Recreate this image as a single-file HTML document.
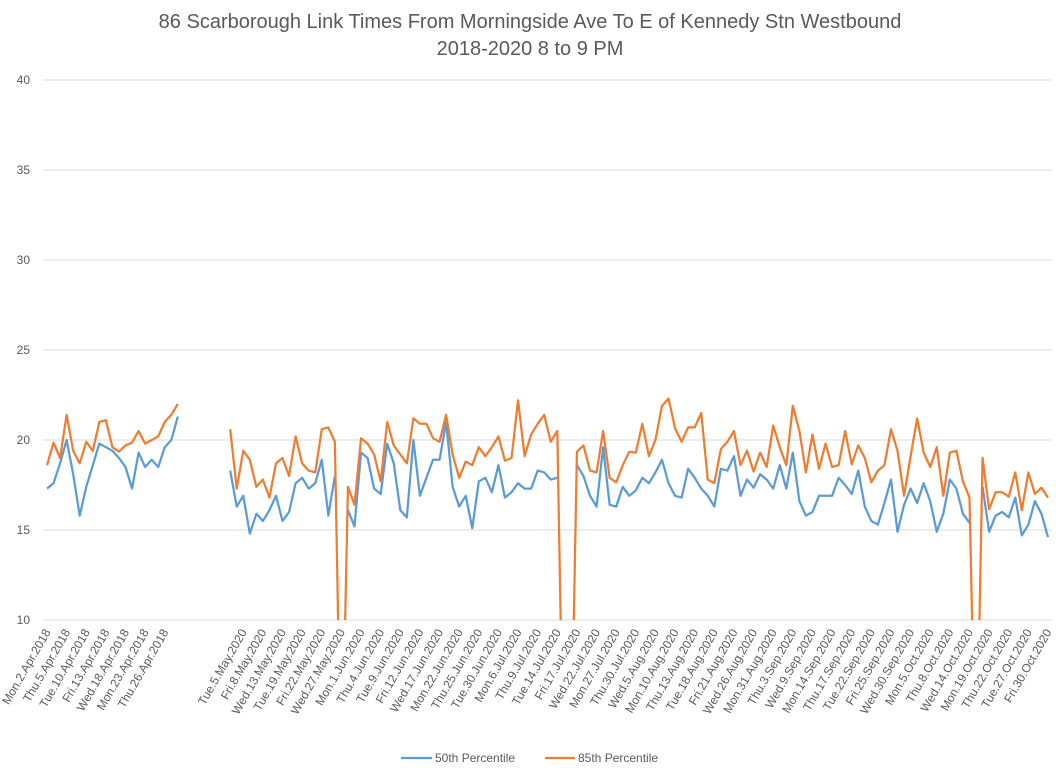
<!DOCTYPE html>
<html><head><meta charset="utf-8"><style>
html,body{margin:0;padding:0;background:#fff;}
svg{display:block;font-family:"Liberation Sans",sans-serif;}
</style></head><body>
<svg id="chart" width="1060" height="775" viewBox="0 0 1060 775" xmlns="http://www.w3.org/2000/svg">
<defs><clipPath id="plotclip"><rect x="43" y="78" width="1012" height="542"/></clipPath></defs>
<text x="530" y="28" text-anchor="middle" font-size="20" fill="#595959">86 Scarborough Link Times From Morningside Ave To E of Kennedy Stn Westbound</text>
<text x="530" y="55" text-anchor="middle" font-size="20" fill="#595959">2018-2020 8 to 9 PM</text>
<g id="grid"></g><g id="yticks"></g><g id="xticks"></g>
<g id="series" clip-path="url(#plotclip)"></g>
<g>
<g><line x1="401" y1="758" x2="432" y2="758" stroke="#5b9bd5" stroke-width="2.25"/><text x="435" y="762" font-size="12" fill="#595959">50th Percentile</text></g>
<g><line x1="545" y1="758" x2="575" y2="758" stroke="#ed7d31" stroke-width="2.25"/><text x="578" y="762" font-size="12" fill="#595959">85th Percentile</text></g>
</g>
</svg>
<script>
const yTicks = [10, 15, 20, 25, 30, 35, 40];
const holidays2020 = ["2020-05-18", "2020-07-01", "2020-08-03", "2020-09-07", "2020-10-12"];
const gapCount = 7;
const p50 = [17.3,17.6,18.7,20.0,18.1,15.8,17.4,18.6,19.8,19.6,19.4,19.0,18.5,17.3,19.3,18.5,18.9,18.5,19.6,20.0,21.3,
null,null,null,null,null,null,null,
18.3,16.3,16.9,14.8,15.9,15.5,16.1,16.9,15.5,16.0,17.6,17.9,17.3,17.6,18.9,15.8,18.0,null,16.1,15.2,19.3,19.0,17.3,17.0,19.8,18.7,16.1,
15.7,20.0,16.9,17.9,18.9,18.9,21.0,17.4,16.3,16.9,15.1,17.7,17.9,17.1,18.6,16.8,17.1,17.6,17.3,17.3,18.3,18.2,17.8,17.9,null,null,18.6,
18.0,16.9,16.3,19.6,16.4,16.3,17.4,16.9,17.2,17.9,17.6,18.2,18.9,17.6,16.9,16.8,18.4,17.9,17.3,16.9,16.3,18.4,18.3,19.1,16.9,17.8,17.35,
18.1,17.8,17.3,18.6,17.3,19.3,16.6,15.8,16.0,16.9,16.9,16.9,17.9,17.5,17.0,18.3,16.3,15.5,15.3,16.5,17.8,14.9,16.4,17.3,16.5,17.6,16.6,
14.9,15.9,17.8,17.3,15.9,15.4,null,17.4,14.9,15.8,16.0,15.7,16.8,14.7,15.3,16.6,15.9,14.6];
const p85 = [18.6,19.85,19.0,21.4,19.4,18.7,19.9,19.4,21.0,21.1,19.6,19.35,19.7,19.85,20.5,19.8,20.0,20.2,21.0,21.4,22.0,
null,null,null,null,null,null,null,
20.6,17.3,19.4,18.9,17.4,17.8,16.8,18.7,19.0,18.0,20.2,18.7,18.3,18.2,20.6,20.7,19.9,0,17.4,16.4,20.1,19.8,19.2,17.7,21.0,19.7,19.2,
18.7,21.2,20.9,20.9,20.1,19.9,21.4,19.2,17.9,18.8,18.6,19.6,19.1,19.6,20.2,18.85,19.0,22.2,19.1,20.3,20.9,21.4,19.9,20.5,0,0,19.35,
19.7,18.3,18.2,20.5,17.9,17.65,18.6,19.35,19.3,20.9,19.1,20.0,21.9,22.3,20.65,19.9,20.7,20.7,21.5,17.8,17.6,19.5,19.9,20.5,18.6,19.4,18.25,
19.3,18.5,20.8,19.6,18.6,21.9,20.5,18.2,20.3,18.4,19.8,18.5,18.6,20.5,18.65,19.7,19.0,17.65,18.3,18.6,20.6,19.4,16.9,19.1,21.2,19.3,18.5,
19.6,16.9,19.3,19.4,17.7,16.8,0,19.0,16.15,17.1,17.1,16.85,18.2,16.1,18.2,17.0,17.35,16.8];

const DAYS = ["Sun","Mon","Tue","Wed","Thu","Fri","Sat"];
const MONS = ["Jan","Feb","Mar","Apr","May","Jun","Jul","Aug","Sep","Oct","Nov","Dec"];
function weekdays(from, to, skip){
  const out=[]; let t=Date.UTC(...from); const end=Date.UTC(...to);
  while(t<=end){const d=new Date(t); const wd=d.getUTCDay(); const iso=d.toISOString().slice(0,10);
    if(wd>0&&wd<6&&!skip.includes(iso)) out.push(DAYS[wd]+"."+d.getUTCDate()+"."+MONS[d.getUTCMonth()]+"."+d.getUTCFullYear());
    t+=86400000;}
  return out;
}
const categories = [...weekdays([2018,3,2],[2018,3,30],[]), ...Array(gapCount).fill(""), ...weekdays([2020,4,1],[2020,9,30],holidays2020)];

const X0=47, X1=1048, Y10=620, PXU=18;
const n = categories.length;
const xs = i => X0 + i*(X1-X0)/(n-1);
const ys = v => Y10 - (v-10)*PXU;
const NS="http://www.w3.org/2000/svg";
function mk(tag, attrs, parent){const e=document.createElementNS(NS,tag); for(const k in attrs) e.setAttribute(k,attrs[k]); parent.appendChild(e); return e;}

const grid=document.getElementById("grid"), yt=document.getElementById("yticks");
yTicks.forEach(v=>{
  const l=mk("line",{x1:43,x2:1052,y1:ys(v),y2:ys(v),stroke:"#d9d9d9","stroke-width":1},grid);
  
  
  const t=mk("text",{x:30,y:ys(v)+4,"text-anchor":"end","font-size":12,fill:"#595959"},yt);
  t.textContent=v;
  
  
});

const xt=document.getElementById("xticks");
categories.forEach((c,i)=>{
  if(i%3!==0||!c) return;
  const x=xs(i)+4, y=632;
  const t=mk("text",{x:x,y:y,"text-anchor":"end","font-size":12,fill:"#595959",transform:`rotate(-60 ${x} ${y})`},xt);
  t.textContent=c;
  
  
});

const sg=document.getElementById("series");
function drawSeries(vals,color,name){
  let d=""; let pen=false;
  vals.forEach((v,i)=>{
    if(v===null){pen=false;return;}
    d+=(pen?"L":"M")+xs(i).toFixed(2)+" "+ys(v).toFixed(2)+" "; pen=true;
  });
  const p=mk("path",{d:d,fill:"none",stroke:color,"stroke-width":2.25,"stroke-linejoin":"round"},sg);
  
  
}
drawSeries(p50,"#5b9bd5","series-50th-percentile");
drawSeries(p85,"#ed7d31","series-85th-percentile");
</script>
</body></html>
